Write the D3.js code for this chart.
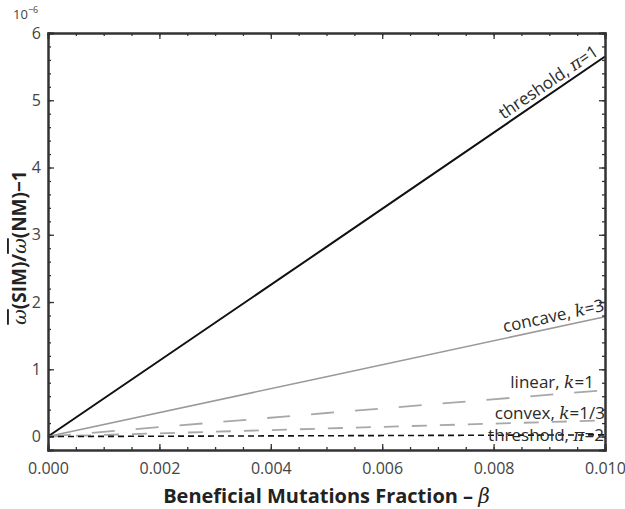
<!DOCTYPE html>
<html>
<head>
<meta charset="UTF-8">
<script src="https://d3js.org/d3.v7.min.js"></script>
<style>
  body { margin: 0; background: #fff; }
  svg { display: block; font-family: 'Open Sans', 'Liberation Sans', sans-serif; }
</style>
</head>
<body>
<svg id="chart" width="625" height="509"></svg>
<script>
// valeurs (en unités de 1e-6)
const beta = [0, 0.005, 0.01];
const thresholdPi1 = [0, 2.82, 5.65];
const concaveK3 = [0, 0.89, 1.78];
const linearK1 = [0, 0.35, 0.69];
const convexK13 = [0, 0.12, 0.24];
const thresholdPi2 = [0, 0.012, 0.025];

const xTicks = [0, 0.002, 0.004, 0.006, 0.008, 0.010];
const yTicks = [0, 1, 2, 3, 4, 5, 6];

const series = [
  { name: "thresholdPi1", values: thresholdPi1, color: "#111", width: 2, dash: null },
  { name: "concaveK3", values: concaveK3, color: "#9a9a9a", width: 1.6, dash: null },
  { name: "linearK1", values: linearK1, color: "#a8a8a8", width: 1.8, dash: "23,21" },
  { name: "convexK13", values: convexK13, color: "#a8a8a8", width: 1.8, dash: "15,13" },
  { name: "thresholdPi2", values: thresholdPi2, color: "#111", width: 1.6, dash: "6,4" }
];

const svg = d3.select("#chart");
const mLeft = 48, mRight = 605, mTop = 33, mBottom = 450;

const x = d3.scaleLinear().domain([0, 0.01]).range([mLeft, mRight]);
const y = d3.scaleLinear().domain([-0.2, 6]).range([mBottom, mTop]);

// lignes
const line = d3.line().x(d => x(d[0])).y(d => y(d[1]));
series.forEach(s => {
  svg.append("path")
    .datum(beta.map((b, i) => [b, s.values[i]]))
    .attr("d", line)
    .attr("fill", "none")
    .attr("stroke", s.color)
    .attr("stroke-width", s.width)
    .attr("stroke-dasharray", s.dash);
});

// cadre + graduations vers l'intérieur
const minorX = d3.range(0, 0.01 + 1e-9, 0.0005);
const minorY = d3.range(-0.2, 6 + 1e-9, 0.2);

svg.append("g").attr("transform", `translate(0,${mBottom})`)
  .call(d3.axisBottom(x).tickValues(minorX).tickSize(-3).tickFormat(""));
svg.append("g").attr("transform", `translate(0,${mTop})`)
  .call(d3.axisTop(x).tickValues(minorX).tickSize(-3).tickFormat(""));
svg.append("g").attr("transform", `translate(${mLeft},0)`)
  .call(d3.axisLeft(y).tickValues(minorY).tickSize(-3).tickFormat(""));
svg.append("g").attr("transform", `translate(${mRight},0)`)
  .call(d3.axisRight(y).tickValues(minorY).tickSize(-3).tickFormat(""));

svg.append("g").attr("transform", `translate(0,${mBottom})`)
  .call(d3.axisBottom(x).tickValues(xTicks).tickSize(-6).tickFormat(d3.format(".3f")).tickPadding(13));
svg.append("g").attr("transform", `translate(0,${mTop})`)
  .call(d3.axisTop(x).tickValues(xTicks).tickSize(-6).tickFormat(""));
svg.append("g").attr("transform", `translate(${mLeft},0)`)
  .call(d3.axisLeft(y).tickValues(yTicks).tickSize(-6).tickFormat(d3.format("d")).tickPadding(7));
svg.append("g").attr("transform", `translate(${mRight},0)`)
  .call(d3.axisRight(y).tickValues(yTicks).tickSize(-6).tickFormat(""));

svg.selectAll(".domain").attr("stroke", "#333").attr("stroke-width", 2);
svg.selectAll(".tick line").attr("stroke", "#333").attr("stroke-width", 1.3);
svg.selectAll(".tick text").attr("fill", "#444").style("font-size", "16px")
  .style("font-family", "'Open Sans', sans-serif");

// 10^-6
const exp = svg.append("text").attr("x", 13).attr("y", 19).attr("fill", "#444").style("font-size", "13px");
exp.append("tspan").text("10");
exp.append("tspan").attr("dy", -6).style("font-size", "9px").text("−6");

// étiquettes des courbes
function angleOf(vals) {
  const dx = x(0.01) - x(0), dy = y(vals[2]) - y(0);
  return Math.atan2(dy, dx) * 180 / Math.PI;
}
function label(xp, yp, rot, parts) {
  const t = svg.append("text")
    .attr("transform", `translate(${xp},${yp}) rotate(${rot})`)
    .attr("text-anchor", "end")
    .attr("fill", "#2a2a2a").style("font-size", "17px");
  parts.forEach(p => {
    const s = t.append("tspan").text(p[0]);
    if (p[1]) s.style("font-style", "italic").style("font-family", "'DejaVu Serif', serif");
  });
}
label(x(0.0099), y(thresholdPi1[2] * 0.99) - 6, angleOf(thresholdPi1),
  [["threshold, "], ["π", true], ["=1"]]);
label(x(0.01), y(concaveK3[2]) - 6, angleOf(concaveK3),
  [["concave, "], ["k", true], ["=3"]]);
label(x(0.0098), y(linearK1[2]) - 2, 0, [["linear, "], ["k", true], ["=1"]]);
label(x(0.01), y(convexK13[2]) - 1, 0, [["convex, "], ["k", true], ["=1/3"]]);
label(x(0.01) - 1, y(thresholdPi2[2]) + 6, 0, [["threshold, "], ["π", true], ["=2"]]);

// titres des axes
const xt = svg.append("text").attr("x", (mLeft + mRight) / 2).attr("y", 503)
  .attr("text-anchor", "middle").attr("fill", "#222")
  .style("font-size", "20px").style("font-weight", "bold");
xt.append("tspan").text("Beneficial Mutations Fraction – ");
xt.append("tspan").style("font-style", "italic").style("font-family", "'DejaVu Serif', serif")
  .style("font-weight", "normal").text("β");

const yt = svg.append("text")
  .attr("transform", `translate(26,${(mTop + mBottom) / 2 + 6}) rotate(-90)`)
  .attr("text-anchor", "middle").attr("fill", "#222")
  .style("font-size", "19px").style("font-weight", "bold");
yt.append("tspan").style("font-style", "italic").style("font-family", "'DejaVu Serif', serif")
  .style("font-weight", "normal").style("text-decoration", "overline").text("ω");
yt.append("tspan").text("(SIM)/");
yt.append("tspan").style("font-style", "italic").style("font-family", "'DejaVu Serif', serif")
  .style("font-weight", "normal").style("text-decoration", "overline").text("ω");
yt.append("tspan").text("(NM)−1");
</script>
</body>
</html>
